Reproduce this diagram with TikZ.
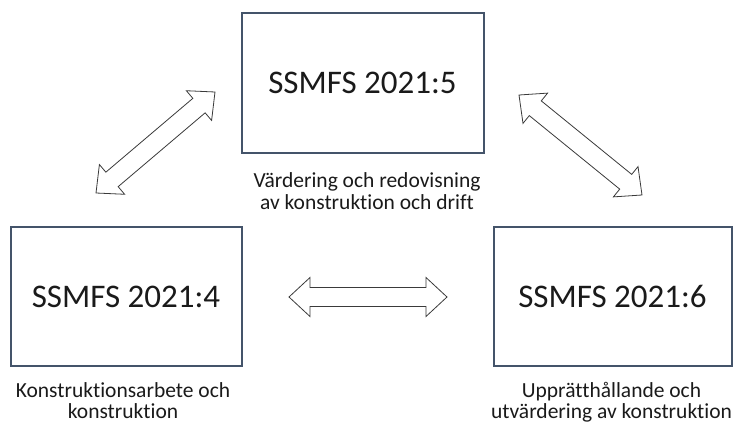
\documentclass[tikz,border=0pt]{standalone}
\usepackage{fontspec}
\setmainfont{Carlito}[Ligatures=NoCommon]
\usetikzlibrary{calc}

\definecolor{boxline}{HTML}{44546A}
\definecolor{arrline}{HTML}{3A3A3A}
\definecolor{txt}{HTML}{1A1A1A}

% hollow double-headed block arrow between two named coordinates
\newcommand\hollowarrow[2]{%
  \draw[arrowline] (#1)
    -- ($(#1)!21pt!(#2)!19.5pt!90:(#2)$)
    -- ($(#1)!21pt!(#2)!9.5pt!90:(#2)$)
    -- ($(#2)!21pt!(#1)!9.5pt!-90:(#1)$)
    -- ($(#2)!21pt!(#1)!19.5pt!-90:(#1)$)
    -- (#2)
    -- ($(#2)!21pt!(#1)!19.5pt!90:(#1)$)
    -- ($(#2)!21pt!(#1)!9.5pt!90:(#1)$)
    -- ($(#1)!21pt!(#2)!9.5pt!-90:(#2)$)
    -- ($(#1)!21pt!(#2)!19.5pt!-90:(#2)$)
    -- cycle;}

\begin{document}
\begin{tikzpicture}[x=1pt,y=-1pt,
  regbox/.style={draw=boxline, line width=2pt, fill=white, outer sep=0pt,
    inner sep=0pt, minimum height=139pt, text=txt,
    font=\fontsize{33}{38}\selectfont},
  caption/.style={anchor=north, align=center, inner sep=0pt, text=txt,
    font=\fontsize{21.5}{21}\selectfont},
  arrowline/.style={draw=arrline, line width=0.8pt, fill=white, line join=miter}]

\clip (0,0) rectangle (734,423);
\path[use as bounding box] (0,0) rectangle (734,423);

% regulation boxes
\node[regbox, minimum width=242pt, minimum height=140pt] (r5) at (362.5,83) {SSMFS 2021:5};
\node[regbox, minimum width=231pt] (r4) at (126,296.5) {SSMFS 2021:4};
\node[regbox, minimum width=238pt] (r6) at (612.5,296.5) {SSMFS 2021:6};

% descriptions under the boxes
\node[caption] (c5) at ($(r5.south)+(4.5,18)$)
  {\rule{0pt}{16pt}Värdering och redovisning\\[1pt]av konstruktion och drift};
\node[caption] (c4) at ($(r4.south)+(-3,15)$)
  {\rule{0pt}{16pt}Konstruktionsarbete och\\konstruktion};
\node[caption] (c6) at ($(r6.south)+(-1,15)$)
  {\rule{0pt}{16pt}Upprätthållande och\\utvärdering av konstruktion};

% arrow ends
\coordinate (a4) at (96,193);
\coordinate (a5l) at (215,92);
\coordinate (a5r) at (519,95);
\coordinate (a6) at (642,195);
\coordinate (h4) at (289,297);
\coordinate (h6) at (447,297);

\hollowarrow{a4}{a5l}
\hollowarrow{a5r}{a6}
\hollowarrow{h4}{h6}
\end{tikzpicture}
\end{document}
